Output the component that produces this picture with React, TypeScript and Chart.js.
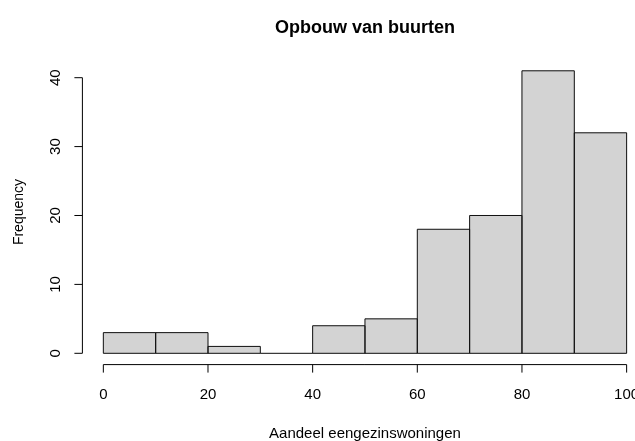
import React, { useEffect, useRef } from "react";
import { Chart, registerables } from "chart.js";

Chart.register(...registerables);

// Histogram bins (lower edges) and counts
const binStarts = [0, 10, 20, 30, 40, 50, 60, 70, 80, 90];
const binWidth = 10;
const counts = [3, 3, 1, 0, 4, 5, 18, 20, 41, 32];
const xTicks = [0, 20, 40, 60, 80, 100];
const yTicks = [0, 10, 20, 30, 40];
const title = "Opbouw van buurten";
const xLabel = "Aandeel eengezinswoningen";
const yLabel = "Frequency";

const FONT = '"Liberation Sans", Arial, Helvetica, sans-serif';

// Draws bar outlines, detached axes with ticks, and the titles in base-graphics style
const baseGraphicsPlugin = {
  id: "baseGraphics",
  afterDatasetsDraw(chart: any) {
    const ctx = chart.ctx as CanvasRenderingContext2D;
    const xs = chart.scales.x;
    const ys = chart.scales.y;
    const area = chart.chartArea;
    const meta = chart.getDatasetMeta(0);

    ctx.save();
    ctx.strokeStyle = "#111";
    ctx.lineWidth = 1;
    // bar outlines (shared edges drawn once at the bin boundary)
    meta.data.forEach((bar: any) => {
      const left = bar.x - bar.width / 2;
      const top = Math.min(bar.y, bar.base);
      const h = Math.abs(bar.base - bar.y);
      ctx.beginPath();
      if (h === 0) {
        ctx.moveTo(left, bar.base);
        ctx.lineTo(left + bar.width, bar.base);
      } else {
        ctx.rect(left, top, bar.width, h);
      }
      ctx.stroke();
    });

    const tickLen = 8;
    ctx.strokeStyle = "#000";
    ctx.fillStyle = "#000";

    // x axis along the bottom of the plot region
    const axisY = area.bottom;
    ctx.beginPath();
    ctx.moveTo(xs.getPixelForValue(xTicks[0]), axisY);
    ctx.lineTo(xs.getPixelForValue(xTicks[xTicks.length - 1]), axisY);
    xTicks.forEach((t) => {
      const px = xs.getPixelForValue(t);
      ctx.moveTo(px, axisY);
      ctx.lineTo(px, axisY + tickLen);
    });
    ctx.stroke();
    ctx.font = `15px ${FONT}`;
    ctx.textAlign = "center";
    ctx.textBaseline = "alphabetic";
    xTicks.forEach((t) => {
      ctx.fillText(String(t), xs.getPixelForValue(t), axisY + 34);
    });

    // y axis along the left of the plot region
    const axisX = area.left;
    ctx.beginPath();
    ctx.moveTo(axisX, ys.getPixelForValue(yTicks[0]));
    ctx.lineTo(axisX, ys.getPixelForValue(yTicks[yTicks.length - 1]));
    yTicks.forEach((t) => {
      const py = ys.getPixelForValue(t);
      ctx.moveTo(axisX, py);
      ctx.lineTo(axisX - tickLen, py);
    });
    ctx.stroke();
    yTicks.forEach((t) => {
      ctx.save();
      ctx.translate(axisX - 22, ys.getPixelForValue(t));
      ctx.rotate(-Math.PI / 2);
      ctx.fillText(String(t), 0, 0);
      ctx.restore();
    });

    // titles, centred on the plot region
    const plotCenterX = xs.getPixelForValue(50);
    const plotCenterY = (area.top + area.bottom) / 2;
    ctx.font = `bold 18px ${FONT}`;
    ctx.fillText(title, plotCenterX, 33);
    ctx.font = `15px ${FONT}`;
    ctx.fillText(xLabel, plotCenterX, 438);
    ctx.font = `14px ${FONT}`;
    ctx.save();
    ctx.translate(23, plotCenterY);
    ctx.rotate(-Math.PI / 2);
    ctx.fillText(yLabel, 0, 0);
    ctx.restore();
    ctx.restore();
  },
};

export default function App() {
  const canvasRef = useRef<HTMLCanvasElement | null>(null);

  useEffect(() => {
    if (!canvasRef.current) return;
    const chart = new Chart(canvasRef.current, {
      type: "bar",
      data: {
        datasets: [
          {
            data: binStarts.map((s, i) => ({ x: s + binWidth / 2, y: counts[i] })),
            backgroundColor: "#d3d3d3",
            borderWidth: 0,
            barPercentage: 1,
            categoryPercentage: 1,
          },
        ],
      },
      options: {
        responsive: false,
        animation: false,
        events: [],
        layout: { padding: { left: 82.4, right: 0, top: 59.5, bottom: 76.4 } },
        plugins: { legend: { display: false }, tooltip: { enabled: false }, title: { display: false } },
        scales: {
          x: { type: "linear", display: false, min: -4, max: 101.6, offset: false },
          y: { type: "linear", display: false, min: -1.64, max: 42.64 },
        },
      },
      plugins: [baseGraphicsPlugin],
    });
    return () => chart.destroy();
  }, []);

  return (
    <div style={{ position: "fixed", left: 0, top: 0, width: 635, height: 441, background: "#fff" }}>
      <canvas ref={canvasRef} width={635} height={441} style={{ display: "block" }} />
    </div>
  );
}
